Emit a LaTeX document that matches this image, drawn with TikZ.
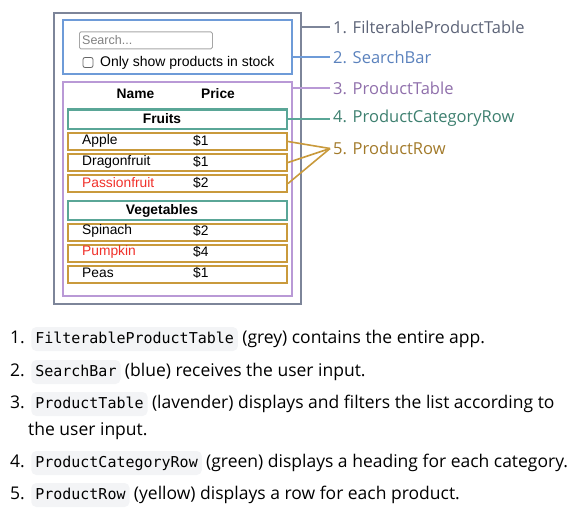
\documentclass[tikz,border=0pt]{standalone}
\usepackage{fontspec}
\setmainfont{Open Sans}
\setsansfont{Liberation Sans}
\setmonofont{DejaVu Sans Mono}
\usepackage{tikz}
\usetikzlibrary{positioning, calc}
\definecolor{appGrey}{HTML}{7D8599}
\definecolor{appGreyText}{HTML}{5D6478}
\definecolor{barBlue}{HTML}{6E9BD8}
\definecolor{barBlueText}{HTML}{5B82BD}
\definecolor{tableLav}{HTML}{B999D6}
\definecolor{tableLavText}{HTML}{8F6FAB}
\definecolor{catGreen}{HTML}{5AA697}
\definecolor{catGreenText}{HTML}{3D7F6F}
\definecolor{rowGold}{HTML}{C99A3C}
\definecolor{rowGoldText}{HTML}{A27A2A}
\definecolor{stockRed}{HTML}{F0302A}
\definecolor{codeBg}{HTML}{F3F4F6}
\tikzset{
  box/.style={draw=#1, line width=2pt, inner sep=0, anchor=north west},
  rowbox/.style={box=rowGold, minimum width=219pt, minimum height=17pt},
  catbox/.style={box=catGreen, minimum width=219pt, minimum height=19pt},
  cell/.style={font=\sffamily\fontsize{13.8}{14}\selectfont, inner sep=0, anchor=west},
  head/.style={font=\sffamily\bfseries\fontsize{13.8}{14}\selectfont, inner sep=0, anchor=center},
  tag/.style={font=\fontsize{16.5}{17}\selectfont, inner sep=3pt, anchor=west},
  item/.style={font=\fontsize{17.5}{18}\selectfont, inner sep=0, anchor=base west},
  code/.style={font=\ttfamily\fontsize{15}{15}\selectfont, fill=codeBg, rounded corners=5pt,
    inner xsep=4pt, inner ysep=0, text height=16pt, text depth=8pt, anchor=base west},
}
\begin{document}
\begin{tikzpicture}[x=1pt, y=-1pt]
  \useasboundingbox (0,0) rectangle (572,508);

  % boxes
  \node[box=appGrey, minimum width=247pt, minimum height=290pt] (app) at (52.5,12.5) {};
  \node[box=barBlue, minimum width=229pt, minimum height=54pt] (bar) at (61.5,19.5) {};
  \node[box=tableLav, minimum width=229pt, minimum height=213pt] (table) at (61.5,81.5) {};

  \node[draw=gray!70, line width=0.8pt, rounded corners=1.5pt, minimum width=133pt, minimum height=17pt,
    inner sep=0, anchor=north west] (search) at (79,31.5) {};
  \node[cell, text=gray, font=\sffamily\fontsize{12.5}{13}\selectfont] at ($(search.west)+(3,0)$) {Search...};
  \node[draw=gray!80!black, line width=0.8pt, rounded corners=2pt, minimum size=10pt, inner sep=0]
    (check) at (88,62.5) {};
  \node[cell, font=\sffamily\fontsize{14}{14}\selectfont] at (100,62.5) {Only show products in stock};

  \node[head] at (135.5,93.5) {Name};
  \node[head] at (218,93.5) {Price};

  \node[catbox] (fruits) at (67,108.5) {};
  \node[head] at (162,119) {Fruits};
  \node[rowbox] (apple) at (67,132) {};
  \node[rowbox] (dragon) at (67,153) {};
  \node[rowbox] (passion) at (67,174) {};
  \node[cell] at (82,140.5) {Apple};
  \node[cell] at (193,140.5) {\$1};
  \node[cell] at (82,161.5) {Dragonfruit};
  \node[cell] at (193,161.5) {\$1};
  \node[cell, text=stockRed] at (82,182.5) {Passionfruit};
  \node[cell] at (193,182.5) {\$2};

  \node[catbox] (veg) at (67,200) {};
  \node[head] at (162,210.5) {Vegetables};
  \node[rowbox] (spinach) at (67,222.5) {};
  \node[rowbox] (pumpkin) at (67,243.5) {};
  \node[rowbox] (peas) at (67,264.5) {};
  \node[cell] at (82,231) {Spinach};
  \node[cell] at (193,231) {\$2};
  \node[cell, text=stockRed] at (82,252) {Pumpkin};
  \node[cell] at (193,252) {\$4};
  \node[cell] at (82,273) {Peas};
  \node[cell] at (193,273) {\$1};

  % labels
  \node[tag, text=appGreyText] (lblapp) at (330,27.5) {1. FilterableProductTable};
  \node[tag, text=barBlueText] (lblbar) at (330,57) {2. SearchBar};
  \node[tag, text=tableLavText] (lbltable) at (330,88) {3. ProductTable};
  \node[tag, text=catGreenText] (lblcat) at (330,118.5) {4. ProductCategoryRow};
  \node[tag, text=rowGoldText] (lblrow) at (330,148.5) {5. ProductRow};

  \draw[appGrey, line width=2pt] (lblapp.west -| app.east) -- (lblapp.west);
  \draw[barBlue, line width=2pt] (lblbar.west -| bar.east) -- (lblbar.west);
  \draw[tableLav, line width=2pt] (lbltable.west -| table.east) -- (lbltable.west);
  \draw[catGreen, line width=2pt] (lblcat.west -| fruits.east) -- (lblcat.west);
  \draw[rowGold, line width=1.6pt] (apple.east) -- (lblrow.west);
  \draw[rowGold, line width=1.6pt] (dragon.east) -- (lblrow.west);
  \draw[rowGold, line width=1.6pt] (passion.east) -- (lblrow.west);

  % list
  \node[item] (n1) at (10,343) {1.};
  \node[code, right=6pt of n1.base east, anchor=base west] (c1) {FilterableProductTable};
  \node[item, right=4pt of c1.base east, anchor=base west] (t1) {(grey) contains the entire app.};
  \node[item] (n2) at (10,376) {2.};
  \node[code, right=6pt of n2.base east, anchor=base west] (c2) {SearchBar};
  \node[item, right=4pt of c2.base east, anchor=base west] (t2) {(blue) receives the user input.};
  \node[item] (n3) at (10,408) {3.};
  \node[code, right=6pt of n3.base east, anchor=base west] (c3) {ProductTable};
  \node[item, right=4pt of c3.base east, anchor=base west] (t3) {(lavender) displays and filters the list according to};
  \node[item] (t3b) at (28,435) {the user input.};
  \node[item] (n4) at (10,467) {4.};
  \node[code, right=6pt of n4.base east, anchor=base west] (c4) {ProductCategoryRow};
  \node[item, right=4pt of c4.base east, anchor=base west] (t4) {(green) displays a heading for each category.};
  \node[item] (n5) at (10,499) {5.};
  \node[code, right=6pt of n5.base east, anchor=base west] (c5) {ProductRow};
  \node[item, right=4pt of c5.base east, anchor=base west] (t5) {(yellow) displays a row for each product.};
\end{tikzpicture}
\end{document}
